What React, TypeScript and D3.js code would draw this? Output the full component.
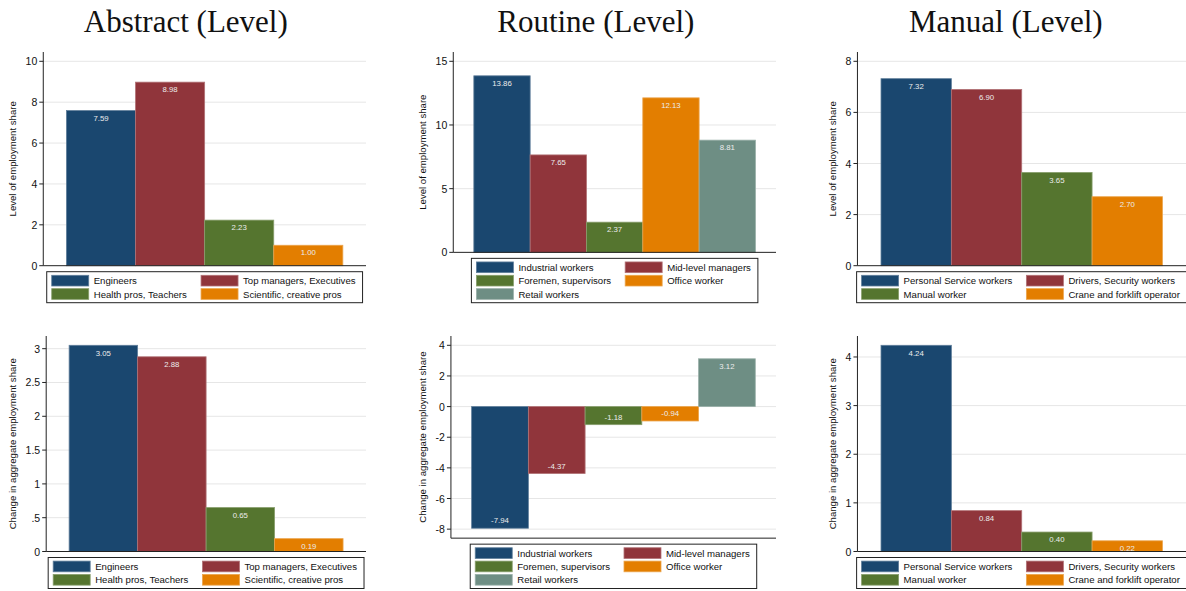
import React from 'react';
import * as d3 from 'd3';

// ---------- data ----------
const abstractCats = ["Engineers", "Top managers, Executives", "Health pros, Teachers", "Scientific, creative pros"];
const routineCats = ["Industrial workers", "Mid-level managers", "Foremen, supervisors", "Office worker", "Retail workers"];
const manualCats = ["Personal Service workers", "Drivers, Security workers", "Manual worker", "Crane and forklift operator"];

const abstractLevel = [7.59, 8.98, 2.23, 1.0];
const routineLevel = [13.86, 7.65, 2.37, 12.13, 8.81];
const manualLevel = [7.32, 6.9, 3.65, 2.7];

const abstractChange = [3.05, 2.88, 0.65, 0.19];
const routineChange = [-7.94, -4.37, -1.18, -0.94, 3.12];
const manualChange = [4.24, 0.84, 0.4, 0.22];

const ticksAbstractLevel = [0, 2, 4, 6, 8, 10];
const ticksRoutineLevel = [0, 5, 10, 15];
const ticksManualLevel = [0, 2, 4, 6, 8];
const ticksAbstractChange = [0, 0.5, 1, 1.5, 2, 2.5, 3];
const ticksRoutineChange = [-8, -6, -4, -2, 0, 2, 4];
const ticksManualChange = [0, 1, 2, 3, 4];

const seriesColors = ["#1a476f", "#90353b", "#55752f", "#e37e00", "#6e8e84"];
const panelTitles = ["Abstract (Level)", "Routine (Level)", "Manual (Level)"];
const yTitleLevel = "Level of employment share";
const yTitleChange = "Change in aggregate employment share";

// ---------- layout constants ----------
const W = 1186;
const H = 591;
const SANS = '"Liberation Sans", Arial, Helvetica, sans-serif';
const SERIF = '"Liberation Serif", "Times New Roman", serif';
const TICK_FS = 10.5;
const LEG_FS = 9.6;
const YT_FS = 9.6;
const VAL_FS = 7.8;

let ctx: CanvasRenderingContext2D | null = null;
function textWidth(s: string, size: number): number {
  if (!ctx) ctx = document.createElement('canvas').getContext('2d');
  if (!ctx) return s.length * size * 0.5;
  ctx.font = `${size}px ${SANS}`;
  return ctx.measureText(s).width;
}

function stataFmt(v: number): string {
  let s = String(v);
  if (s.startsWith('0.')) s = s.slice(1);
  if (s.startsWith('-0.')) s = '-' + s.slice(2);
  return s;
}

const locale = d3.formatLocale({ decimal: '.', thousands: ',', grouping: [3], currency: ['', ''], minus: '-' });
const fmt2 = locale.format('.2f');

type PanelProps = {
  ox: number;
  plotTop: number;
  legendBottom: number;
  cats: string[];
  values: number[];
  ticks: number[];
  title?: string;
  yTitle: string;
  outerPad: number;
};

function Panel({ ox, plotTop, legendBottom, cats, values, ticks, title, yTitle, outerPad }: PanelProps) {
  const n = cats.length;
  const maxTickW = d3.max(ticks, (t) => textWidth(stataFmt(t), TICK_FS)) || 0;
  const axisX = ox + 31.6 + maxTickW;
  const plotRight = ox + 366;
  const rows = Math.ceil(n / 2);
  const legendH = rows * 13.35 + 4.3;
  const legendTop = legendBottom - legendH;
  const plotBottom = legendTop - 6;

  const lo = Math.min(d3.min(ticks)!, d3.min(values)!);
  const hi = Math.max(d3.max(ticks)!, d3.max(values)!);
  const y = d3
    .scaleLinear()
    .domain([lo, hi])
    .range([plotBottom - (lo < 0 ? 9 : 0), plotTop + 9.3]);
  const x = d3
    .scaleBand<number>()
    .domain(d3.range(n))
    .range([axisX, plotRight])
    .paddingInner(0)
    .paddingOuter(outerPad);

  // legend geometry
  const col1 = cats.filter((_, i) => i % 2 === 0);
  const col2 = cats.filter((_, i) => i % 2 === 1);
  const col1W = d3.max(col1, (s) => textWidth(s, LEG_FS)) || 0;
  const col2W = d3.max(col2, (s) => textWidth(s, LEG_FS)) || 0;
  const colOffset = 42 + col1W + 14;
  const legendW = 5 + colOffset + 42 + col2W + 7;
  const legendLeft = (axisX + plotRight) / 2 - legendW / 2;

  const lighter = (c: string) => d3.interpolateRgb(c, '#ffffff')(0.3);

  return (
    <g>
      {title && (
        <text x={ox + 185.8} y={31.5} textAnchor="middle" fontFamily={SERIF} fontSize={31} fill="#111">
          {title}
        </text>
      )}
      {/* gridlines */}
      {ticks
        .filter((t) => !(t === lo && lo === 0))
        .map((t) => (
          <line key={'g' + t} x1={axisX} x2={plotRight} y1={y(t)} y2={y(t)} stroke="#e6e6e6" strokeWidth={1} />
        ))}
      {/* bars */}
      {values.map((v, i) => (
        <rect
          key={'b' + i}
          x={x(i)!}
          width={x.bandwidth()}
          y={Math.min(y(v), y(0))}
          height={Math.abs(y(v) - y(0))}
          fill={seriesColors[i]}
          stroke={lighter(seriesColors[i])}
          strokeWidth={0.8}
        />
      ))}
      {/* value labels */}
      {values.map((v, i) => (
        <text
          key={'v' + i}
          x={x(i)! + x.bandwidth() / 2}
          y={v >= 0 ? y(v) + 7.7 : y(v) - 7.5}
          textAnchor="middle"
          dominantBaseline="central"
          fontFamily={SANS}
          fontSize={VAL_FS}
          fill="#ececec"
        >
          {fmt2(v)}
        </text>
      ))}
      {/* axes */}
      <line x1={axisX} x2={axisX} y1={plotTop} y2={plotBottom} stroke="#222" strokeWidth={1} />
      <line x1={axisX} x2={plotRight} y1={plotBottom} y2={plotBottom} stroke="#222" strokeWidth={1} />
      {ticks.map((t) => (
        <g key={'t' + t}>
          <line x1={axisX - 4} x2={axisX} y1={y(t)} y2={y(t)} stroke="#222" strokeWidth={1} />
          <text
            x={axisX - 6}
            y={y(t)}
            textAnchor="end"
            dominantBaseline="central"
            fontFamily={SANS}
            fontSize={TICK_FS}
            fill="#111"
          >
            {stataFmt(t)}
          </text>
        </g>
      ))}
      <text
        transform={`translate(${ox + 12.5},${(plotTop + plotBottom) / 2}) rotate(-90)`}
        textAnchor="middle"
        dominantBaseline="central"
        fontFamily={SANS}
        fontSize={YT_FS}
        fill="#111"
      >
        {yTitle}
      </text>
      {/* legend */}
      <rect x={legendLeft} y={legendTop} width={legendW} height={legendH} fill="#fff" stroke="#222" strokeWidth={1} />
      {cats.map((c, i) => {
        const col = i % 2;
        const row = Math.floor(i / 2);
        const sx = legendLeft + 5 + col * colOffset;
        const sy = legendTop + 3.6 + row * 13.35;
        return (
          <g key={'l' + i}>
            <rect x={sx} y={sy} width={37} height={10.7} fill={seriesColors[i]} stroke={lighter(seriesColors[i])} strokeWidth={0.8} />
            <text x={sx + 42} y={sy + 5.5} dominantBaseline="central" fontFamily={SANS} fontSize={LEG_FS} fill="#111">
              {c}
            </text>
          </g>
        );
      })}
    </g>
  );
}

export default function App() {
  const origins = [0, 410, 820];
  const top = { plotTop: 52, legendBottom: 302.7 };
  const bottom = { plotTop: 336, legendBottom: 588.5 };
  const pad4 = 0.335;
  const pad5 = 0.365;
  return (
    <svg
      width={W}
      height={H}
      viewBox={`0 0 ${W} ${H}`}
      style={{ position: 'absolute', left: 0, top: 0, background: '#fff' }}
    >
      <rect width={W} height={H} fill="#fff" />
      <Panel ox={origins[0]} {...top} cats={abstractCats} values={abstractLevel} ticks={ticksAbstractLevel} title={panelTitles[0]} yTitle={yTitleLevel} outerPad={pad4} />
      <Panel ox={origins[1]} {...top} cats={routineCats} values={routineLevel} ticks={ticksRoutineLevel} title={panelTitles[1]} yTitle={yTitleLevel} outerPad={pad5} />
      <Panel ox={origins[2]} {...top} cats={manualCats} values={manualLevel} ticks={ticksManualLevel} title={panelTitles[2]} yTitle={yTitleLevel} outerPad={pad4} />
      <Panel ox={origins[0]} {...bottom} cats={abstractCats} values={abstractChange} ticks={ticksAbstractChange} yTitle={yTitleChange} outerPad={pad4} />
      <Panel ox={origins[1]} {...bottom} cats={routineCats} values={routineChange} ticks={ticksRoutineChange} yTitle={yTitleChange} outerPad={pad5} />
      <Panel ox={origins[2]} {...bottom} cats={manualCats} values={manualChange} ticks={ticksManualChange} yTitle={yTitleChange} outerPad={pad4} />
    </svg>
  );
}
